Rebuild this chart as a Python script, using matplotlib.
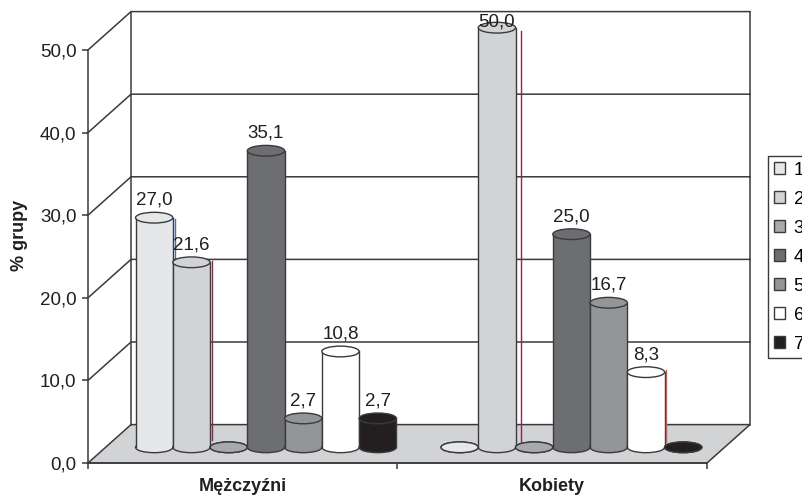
import matplotlib
matplotlib.use('Agg')
from matplotlib import patches as patches
from matplotlib import pyplot as plt

plt.rcParams['font.family'] = ['Liberation Sans', 'DejaVu Sans']

groups = ['Mężczyźni', 'Kobiety']
series_names = ['1', '2', '3', '4', '5', '6', '7']
men = [27.0, 21.6, 0.0, 35.1, 2.7, 10.8, 2.7]
women = [0.0, 50.0, 0.0, 25.0, 16.7, 8.3, 0.0]
y_ticks = [0, 10, 20, 30, 40, 50]
y_tick_labels = ['0,0', '10,0', '20,0', '30,0', '40,0', '50,0']
colors = ['#e6e7e8', '#d1d3d4', '#a7a9ac', '#6d6e71', '#939598', '#ffffff', '#231f20']

INK = '#231f20'
LINE = '#3a3a3c'

# depth of the fake 3D box, in data units
DEPTH_X = 0.139
DEPTH_Y = 4.65
# cylinders stand inside the floor and look a bit taller than their value
BASE = 1.9
LIFT = 2.7
GROUP_X = [0.575, 1.562]
BAR_W = 0.1204
CAP_H = 1.3
# keeps the tallest value label under the top edge of the box
LABEL_MAX = 51.9


def draw_box(ax):
    top = 50 + DEPTH_Y
    floor = [(0, 0), (DEPTH_X, DEPTH_Y), (2 + DEPTH_X, DEPTH_Y), (2, 0)]
    ax.add_patch(patches.Polygon(floor, closed=True, facecolor='#d1d3d4',
                                 edgecolor=LINE, linewidth=1.1, zorder=1,
                                 clip_on=False))
    for t in y_ticks[1:]:
        y = t + DEPTH_Y
        ax.plot([0, DEPTH_X, 2 + DEPTH_X], [t, y, y], color=LINE, lw=1.1,
                zorder=1.5, clip_on=False)
    ax.plot([DEPTH_X, DEPTH_X], [DEPTH_Y, top], color=LINE, lw=1.1,
            zorder=1.5, clip_on=False)
    ax.plot([2 + DEPTH_X, 2 + DEPTH_X], [DEPTH_Y, top], color=LINE, lw=1.1,
            zorder=1.5, clip_on=False)


def draw_cylinder(ax, x, value, color, z):
    top = value + LIFT if value > 0 else BASE
    ax.add_patch(patches.Ellipse((x, BASE), BAR_W, CAP_H, facecolor=color,
                                 edgecolor=LINE, linewidth=1, zorder=z))
    if value > 0:
        ax.bar(x, top - BASE, BAR_W, bottom=BASE, color=color, linewidth=0,
               zorder=z, clip_on=False)
        ax.plot([x - BAR_W / 2] * 2, [BASE, top], color=LINE, lw=1, zorder=z,
                clip_on=False)
        ax.plot([x + BAR_W / 2] * 2, [BASE, top], color=LINE, lw=1, zorder=z,
                clip_on=False)
        ax.annotate(f'{value:.1f}'.replace('.', ','),
                    (x, min(top + CAP_H / 2, LABEL_MAX)),
                    xytext=(0, 2.5), textcoords='offset points', ha='center',
                    va='bottom', fontsize=13.5, color=INK, zorder=40,
                    annotation_clip=False)
    ax.add_patch(patches.Ellipse((x, top), BAR_W, CAP_H, facecolor=color,
                                 edgecolor=LINE, linewidth=1, zorder=z + 0.1,
                                 clip_on=False))


fig = plt.figure(figsize=(8.03, 4.95), dpi=100)
ax = fig.add_axes([88 / 803, 1 - 463 / 495, 619 / 803, 413 / 495])
ax.set_xlim(0, 2)
ax.set_ylim(0, 50)

draw_box(ax)

z = 3
for g, values in enumerate([men, women]):
    for i, value in enumerate(values):
        x = GROUP_X[g] + (i - 3) * BAR_W
        draw_cylinder(ax, x, value, colors[i], z)
        z += 1

# thin coloured hairlines left beside some of the cylinders
ax.plot([0.4016, 0.4016], [2.8, 24.4], color='#8e2750', lw=1, zorder=30)
ax.plot([0.281, 0.281], [24.8, 29.6], color='#4a6fa5', lw=1, zorder=2)
ax.plot([1.398, 1.398], [2.6, 52.3], color='#8e2750', lw=1, zorder=30, clip_on=False)
ax.plot([1.867, 1.867], [2.6, 11.2], color='#d9534f', lw=1, zorder=30)

for side in ['top', 'right']:
    ax.spines[side].set_visible(False)
for side in ['left', 'bottom']:
    ax.spines[side].set_color(LINE)
    ax.spines[side].set_linewidth(1.1)

ax.set_yticks(y_ticks)
ax.set_yticklabels(y_tick_labels, fontsize=13.5, color=INK)
ax.set_xticks([0, 1, 2])
ax.set_xticklabels([])
ax.set_xticks([0.5, 1.5], minor=True)
ax.set_xticklabels(groups, minor=True, fontsize=13, fontweight='bold', color=INK)
ax.tick_params(axis='both', which='major', length=4.3, width=1.1, color=LINE, pad=4)
ax.tick_params(axis='x', which='minor', length=0, pad=10.5)
ax.set_ylabel('% grupy', fontsize=13, fontweight='bold', color=INK)
ax.yaxis.set_label_coords(-60 / 619, 0.552)

handles = [patches.Patch(facecolor=c, edgecolor=LINE, linewidth=1) for c in colors]
fig.legend(handles, series_names, loc='upper left',
           bbox_to_anchor=(768 / 803, 1 - 156 / 495), borderaxespad=0,
           fontsize=13.5, frameon=True, fancybox=False, edgecolor=LINE,
           framealpha=1, handlelength=0.585, handleheight=0.585,
           handletextpad=0.48, labelspacing=0.642, borderpad=0.3)

fig.savefig('out.png', dpi=100)
